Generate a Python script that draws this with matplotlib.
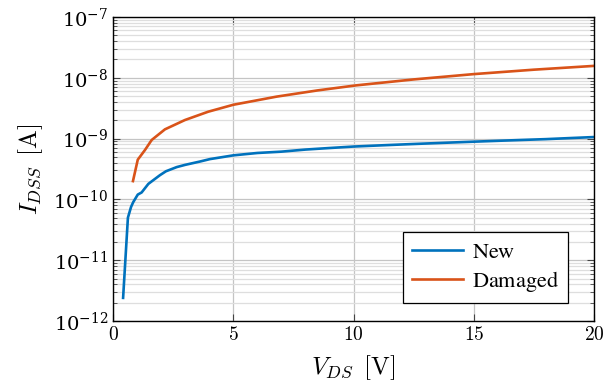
import matplotlib
matplotlib.use("Agg")
import matplotlib.pyplot as plt
from matplotlib.ticker import LogLocator, NullFormatter, FixedLocator

plt.rcParams['mathtext.fontset'] = 'cm'
plt.rcParams['font.family'] = ['DejaVu Serif']

# data
v_new = [0.42, 0.62, 0.75, 0.84, 1.03, 1.19, 1.47, 1.95, 2.2, 2.65, 3.0, 3.62, 4.03,
         5.0, 6.0, 7.0, 8.0, 9.0, 10.0, 11, 12, 13, 14, 15, 16, 17, 18, 19, 20]
i_new = [2.4e-12, 5.0e-11, 7.5e-11, 9.0e-11, 1.2e-10, 1.3e-10, 1.8e-10, 2.5e-10, 2.9e-10,
         3.4e-10, 3.7e-10, 4.2e-10, 4.6e-10, 5.3e-10, 5.8e-10, 6.1e-10, 6.6e-10, 7.0e-10,
         7.4e-10, 7.7e-10, 8.0e-10, 8.3e-10, 8.6e-10, 8.9e-10, 9.2e-10, 9.5e-10, 9.8e-10,
         1.02e-9, 1.06e-9]
v_dmg = [0.83, 1.03, 1.33, 1.61, 2.16, 2.99, 3.96, 5.0, 6.8, 8.5, 10.1, 12.5, 15, 17.5, 20]
i_dmg = [2.0e-10, 4.5e-10, 6.5e-10, 9.5e-10, 1.42e-9, 2.02e-9, 2.77e-9, 3.6e-9, 4.9e-9,
         6.2e-9, 7.5e-9, 9.4e-9, 1.15e-8, 1.36e-8, 1.57e-8]
labels = [r'$\mathrm{New}$', r'$\mathrm{Damaged}$']

fig = plt.figure(figsize=(6.14, 3.85), dpi=100)
ax = fig.add_axes([113/614, 1-321/385, 481/614, 304/385])

ax.plot(v_new, i_new, color='#0072BD', lw=1.9, label=labels[0])
ax.plot(v_dmg, i_dmg, color='#D95319', lw=1.9, label=labels[1])

ax.set_yscale('log')
ax.set_xlim(0, 20)
ax.set_ylim(1e-12, 1e-7)
ax.xaxis.set_major_locator(FixedLocator([0, 5, 10, 15, 20]))
ax.yaxis.set_major_locator(LogLocator(base=10, numticks=10))
ax.yaxis.set_minor_locator(LogLocator(base=10, subs=range(2, 10), numticks=20))
ax.yaxis.set_minor_formatter(NullFormatter())
ax.xaxis.set_major_formatter(plt.FuncFormatter(lambda x, p: r'$%d$' % x))

ax.grid(True, which='major', color='#c4c4c4', lw=0.9)
ax.grid(True, which='minor', axis='y', color='#dedede', lw=0.9)
ax.set_axisbelow(True)

ax.tick_params(which='both', direction='in', left=True, right=True, top=True, bottom=True,
               labelsize=14, color='#444444')
ax.tick_params(which='major', length=5, width=0.8)
ax.tick_params(which='minor', length=3, width=0.6)
for s in ax.spines.values():
    s.set_linewidth(1.0)
    s.set_color('black')

ax.set_xlabel(r'$V_{DS}\ \,[\mathrm{V}]$', fontsize=18, labelpad=7)
ax.set_ylabel(r'$I_{DSS}\ \,[\mathrm{A}]$', fontsize=18, labelpad=6)

leg = ax.legend(loc='lower right', bbox_to_anchor=(0.946, 0.059), borderaxespad=0,
                fancybox=False, framealpha=1, edgecolor='black', handlelength=2.3,
                fontsize=16, borderpad=0.4, labelspacing=0.3, handletextpad=0.4)
leg.get_frame().set_linewidth(0.9)
for t in leg.get_texts():
    t.set_math_fontfamily('stix')

fig.savefig('out.png', dpi=100)
